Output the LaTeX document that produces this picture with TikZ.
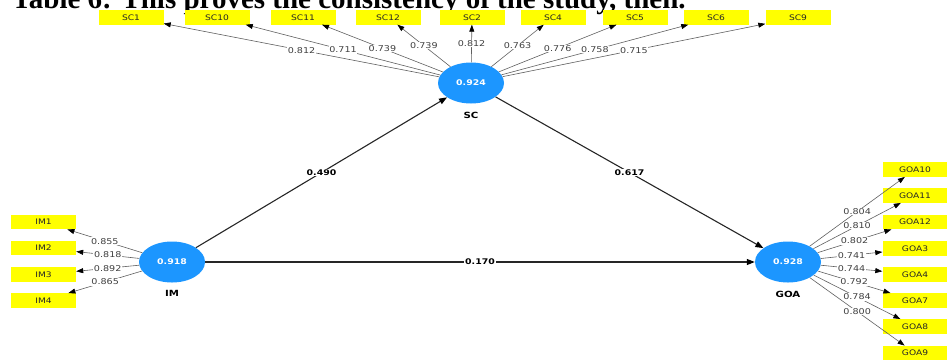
\documentclass[tikz,border=0pt]{standalone}
\usepackage{fontspec}
\usepackage{xcolor}
\usepackage{tikz}
\usetikzlibrary{arrows.meta,shapes.geometric}
\newfontfamily\plsfont[FakeStretch=1.2]{DejaVu Sans}
\newfontfamily\capfont{Liberation Serif}
\definecolor{lvblue}{RGB}{28,150,255}
\definecolor{mvyellow}{RGB}{255,255,0}
\definecolor{loadgray}{RGB}{95,95,95}

\begin{document}
\begin{tikzpicture}[x=1pt,y=-1pt,
        latent/.style={ellipse, fill=lvblue, minimum width=66pt, minimum height=41pt, inner sep=0pt,
            text=white, font=\plsfont\bfseries\fontsize{7.8}{9}\selectfont},
        latname/.style={font=\plsfont\bfseries\fontsize{8.5}{10}\selectfont},
        item/.style={rectangle, fill=mvyellow, minimum width=65pt, minimum height=14.5pt, inner sep=0pt,
            text=black!85, font=\plsfont\fontsize{7.6}{8}\selectfont},
        loading/.style={draw=loadgray, line width=0.6pt, -{Triangle[length=7pt,width=5pt,color=black]}},
        loadlab/.style={fill=white, inner sep=0.6pt, text=black!75, font=\plsfont\fontsize{8}{9}\selectfont},
        path/.style={draw=black!85, line width=1.1pt, -{Triangle[length=8pt,width=6pt,color=black]}},
        pathlab/.style={fill=white, inner sep=0.8pt, text=black, font=\plsfont\bfseries\fontsize{7.8}{9}\selectfont}]
        \useasboundingbox (0,0) rectangle (947,360);
        \clip (0,0) rectangle (947,360);

        % caption line, cut at the top
        \node[anchor=base west, inner sep=0pt, font=\capfont\bfseries\fontsize{29}{30}\selectfont] (title) at (12,8)
            {Table 6: This proves the consistency of the study, then.};

        % latent variables
        \node[latent] (sc) at (471,83) {0.924};
        \node[latname] (sclab) at (471,115) {SC};
        \node[latent] (im) at (172,262) {0.918};
        \node[latname] (imlab) at (172,293) {IM};
        \node[latent] (goa) at (788,262) {0.928};
        \node[latname] (goalab) at (788,294) {GOA};

        % indicators of SC
        \node[item] (sc1) at (131,17.25) {SC1};
        \node[item] (sc10) at (217,17.25) {SC10};
        \node[item] (sc11) at (303,17.25) {SC11};
        \node[item] (sc12) at (388,17.25) {SC12};
        \node[item] (sc2) at (472,17.25) {SC2};
        \node[item] (sc4) at (553,17.25) {SC4};
        \node[item] (sc5) at (635,17.25) {SC5};
        \node[item] (sc6) at (716,17.25) {SC6};
        \node[item] (sc9) at (798,17.25) {SC9};

        % indicators of IM
        \node[item] (im1) at (43.5,222) {IM1};
        \node[item] (im2) at (43.5,248) {IM2};
        \node[item] (im3) at (43.5,274.5) {IM3};
        \node[item] (im4) at (43.5,300.5) {IM4};

        % indicators of GOA
        \node[item] (goa10) at (915,169.5) {GOA10};
        \node[item] (goa11) at (915,195.5) {GOA11};
        \node[item] (goa12) at (915,222) {GOA12};
        \node[item] (goa3) at (915,248.5) {GOA3};
        \node[item] (goa4) at (915,274.5) {GOA4};
        \node[item] (goa7) at (915,300.5) {GOA7};
        \node[item] (goa8) at (915,326.5) {GOA8};
        \node[item] (goa9) at (915,353) {GOA9};

        % outer loadings
        \draw[loading] (sc) -- node[loadlab] {0.812} (sc1);
        \draw[loading] (sc) -- node[loadlab] {0.711} (sc10);
        \draw[loading] (sc) -- node[loadlab] {0.739} (sc11);
        \draw[loading] (sc) -- node[loadlab] {0.739} (sc12);
        \draw[loading] (sc) -- node[loadlab] {0.812} (sc2);
        \draw[loading] (sc) -- node[loadlab] {0.763} (sc4);
        \draw[loading] (sc) -- node[loadlab] {0.776} (sc5);
        \draw[loading] (sc) -- node[loadlab] {0.758} (sc6);
        \draw[loading] (sc) -- node[loadlab] {0.715} (sc9);

        \draw[loading] (im) -- node[loadlab] {0.855} (im1);
        \draw[loading] (im) -- node[loadlab] {0.818} (im2);
        \draw[loading] (im) -- node[loadlab] {0.892} (im3);
        \draw[loading] (im) -- node[loadlab] {0.865} (im4);

        \draw[loading] (goa) -- node[loadlab] {0.804} (goa10);
        \draw[loading] (goa) -- node[loadlab] {0.810} (goa11);
        \draw[loading] (goa) -- node[loadlab] {0.802} (goa12);
        \draw[loading] (goa) -- node[loadlab] {0.741} (goa3);
        \draw[loading] (goa) -- node[loadlab] {0.744} (goa4);
        \draw[loading] (goa) -- node[loadlab] {0.792} (goa7);
        \draw[loading] (goa) -- node[loadlab] {0.784} (goa8);
        \draw[loading] (goa) -- node[loadlab] {0.800} (goa9);

        % path coefficients
        \draw[path] (im) -- node[pathlab] {0.490} (sc);
        \draw[path] (sc) -- node[pathlab] {0.617} (goa);
        \draw[path] (im) -- node[pathlab] {0.170} (goa);
\end{tikzpicture}
\end{document}
